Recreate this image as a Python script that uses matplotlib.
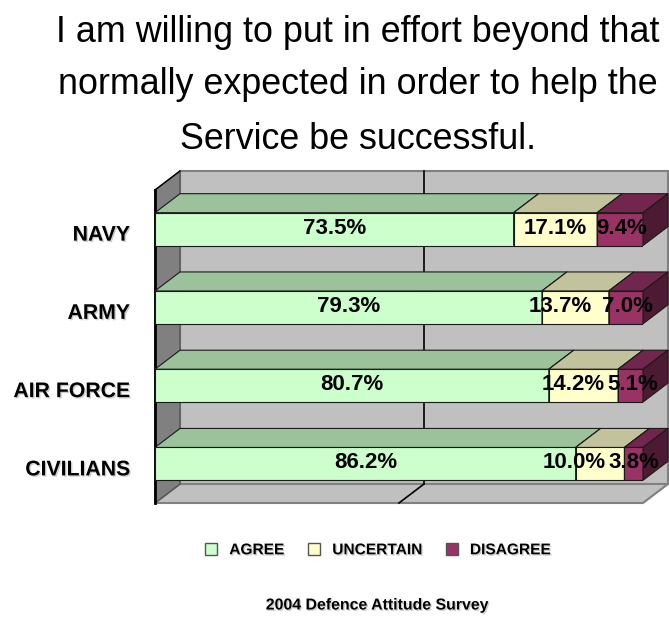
import numpy as np
import matplotlib
matplotlib.use("Agg")
import matplotlib.pyplot as plt
from matplotlib import font_manager as fm
from matplotlib import patheffects as pe
from matplotlib.patches import Polygon, Patch
from matplotlib.transforms import ScaledTranslation

# ---- data -------------------------------------------------------------
categories = ["NAVY", "ARMY", "AIR FORCE", "CIVILIANS"]
series_names = ["AGREE", "UNCERTAIN", "DISAGREE"]
agree = [73.5, 79.3, 80.7, 86.2]
uncertain = [17.1, 13.7, 14.2, 10.0]
disagree = [9.4, 7.0, 5.1, 3.8]

title_lines = ["I am willing to put in effort beyond that",
               "normally expected in order to help the",
               "Service be successful."]
source_note = "2004 Defence Attitude Survey"

# ---- styling ----------------------------------------------------------
front_colors = ["#CCFFCC", "#FFFFCC", "#993366"]
top_colors = ["#9BC29B", "#C2C29D", "#73264D"]
side_colors = ["#6F8F6F", "#8F8F70", "#4D1A33"]
edge = "#1a1a1a"


def has_font(name):
    try:
        fm.findfont(fm.FontProperties(family=name), fallback_to_default=False)
        return True
    except ValueError:
        return False


# Arial-Narrow-like face if present, else the metric-compatible Arial clone
FAMILY = next((f for f in ["Liberation Sans Narrow", "Arial Narrow"] if has_font(f)),
              "Liberation Sans")
FP_REG = fm.FontProperties(family=FAMILY, weight="normal")
FP_BOLD = fm.FontProperties(family=FAMILY, weight="bold")
FP_NUM = fm.FontProperties(family="Liberation Sans", weight="bold", size=16)

W, H = 669, 619
fig = plt.figure(figsize=(W / 100, H / 100), dpi=100)
fig.patch.set_facecolor("white")
renderer = fig.canvas.get_renderer()


def fitted(fp, text, width_px):
    """Copy of fp sized so that `text` spans width_px pixels."""
    p = fp.copy()
    p.set_size(20)
    t = fig.text(0, 0, text, fontproperties=p)
    w = t.get_window_extent(renderer).width
    t.remove()
    p.set_size(20 * width_px / w)
    return p


# front plane of the 3-D box, in pixels
left_px, right_px, top_px, bottom_px = 155, 643, 190, 503
ax = fig.add_axes([left_px / W, 1 - bottom_px / H,
                   (right_px - left_px) / W, (bottom_px - top_px) / H])
ax.set_xlim(0, 100)
ax.set_ylim(len(categories) - 0.5, -0.5)
ax.set_facecolor("none")
for s in ax.spines.values():
    s.set_visible(False)
ax.set_xticks([])

# depth offset of the box (pixels) converted to data units
depth_px = np.array([25.0, 19.0])
p0 = ax.transData.transform((0, 0))
dxy = ax.transData.inverted().transform(p0 + depth_px)
dx, dy = dxy[0], dxy[1]

y0, y1 = ax.get_ylim()  # bottom, top
x0, x1 = ax.get_xlim()

# back wall
ax.add_patch(Polygon([(x0 + dx, y0 + dy), (x1 + dx, y0 + dy),
                      (x1 + dx, y1 + dy), (x0 + dx, y1 + dy)],
                     closed=True, facecolor="#C0C0C0", edgecolor="#808080",
                     lw=1.5, zorder=0, clip_on=False))
# floor
ax.add_patch(Polygon([(x0, y0), (x1, y0), (x1 + dx, y0 + dy), (x0 + dx, y0 + dy)],
                     closed=True, facecolor="#C0C0C0", edgecolor="#808080",
                     lw=1.5, zorder=0.5, clip_on=False))
# left wall
ax.add_patch(Polygon([(x0, y0), (x0, y1), (x0 + dx, y1 + dy), (x0 + dx, y0 + dy)],
                     closed=True, facecolor="#808080", edgecolor="#555555",
                     lw=1.0, zorder=0.6, clip_on=False))
ax.plot([x0, x0], [y0, y1], color="black", lw=2, zorder=0.7, clip_on=False)
ax.plot([x0, x0 + dx], [y1, y1 + dy], color="black", lw=1, zorder=0.7, clip_on=False)

# 50% gridline on back wall and floor
gx = 50
ax.plot([gx + dx, gx + dx], [y0 + dy, y1 + dy], color="black", lw=1.2,
        zorder=1, clip_on=False)
ax.plot([gx, gx + dx], [y0, y0 + dy], color="black", lw=1.2,
        zorder=1, clip_on=False)

# stacked 3-D bars
ypos = np.arange(len(categories))
bar_h = 0.42
values = [agree, uncertain, disagree]
lefts = np.zeros(len(categories))
label_nudge_px = [[0, 0, 2], [0, -15, 2], [0, -10, 2], [0, -26, 0]]
for s, vals in enumerate(values):
    vals = np.asarray(vals, dtype=float)
    bars = ax.barh(ypos, vals, left=lefts, height=bar_h, color=front_colors[s],
                   edgecolor=edge, lw=0.8, zorder=3 + s)
    for i, b in enumerate(bars):
        bx0, by = b.get_x(), b.get_y()
        bx1 = bx0 + b.get_width()
        yt = by  # upper edge (inverted axis)
        yb = by + b.get_height()
        ax.add_patch(Polygon([(bx0, yt), (bx1, yt), (bx1 + dx, yt + dy), (bx0 + dx, yt + dy)],
                             closed=True, facecolor=top_colors[s], edgecolor=edge,
                             lw=0.8, zorder=3 + s, clip_on=False))
        ax.add_patch(Polygon([(bx1, yt), (bx1, yb), (bx1 + dx, yb + dy), (bx1 + dx, yt + dy)],
                             closed=True, facecolor=side_colors[s], edgecolor=edge,
                             lw=0.8, zorder=3 + s, clip_on=False))
        nud = label_nudge_px[i][s]
        ax.text(bx0 + vals[i] / 2, ypos[i], f"{vals[i]:.1f}%",
                ha="center", va="center", fontproperties=FP_NUM,
                color="black", zorder=10, clip_on=False,
                transform=ax.transData + ScaledTranslation(nud / 100, 1 / 100,
                                                           fig.dpi_scale_trans))
    lefts = lefts + vals

shadow = [pe.withSimplePatchShadow(offset=(1, -1), shadow_rgbFace="#b0b0b0", alpha=0.6)]

# category labels
fp_cat = fitted(FP_BOLD, "CIVILIANS", 105)
ax.set_yticks(ypos)
ax.set_yticklabels(categories, fontproperties=fp_cat, color="black")
ax.tick_params(axis="y", length=0, pad=25 * 0.72)
for t in ax.get_yticklabels():
    t.set_transform(t.get_transform() + ScaledTranslation(0, -4 / 100, fig.dpi_scale_trans))
    t.set_path_effects(shadow)

# title
fp_title = fitted(FP_REG, title_lines[0], 603)
for line, base in zip(title_lines, [42, 94, 149]):
    fig.text(358 / W, 1 - base / H, line, ha="center", va="baseline",
             fontproperties=fp_title, color="black")

# legend
fp_leg = fitted(FP_BOLD, "AGREE", 55)
px_per_fs = fp_leg.get_size_in_points() * 100 / 72
handles = [Patch(facecolor=c, edgecolor="#555555", lw=1) for c in front_colors]
leg = fig.legend(handles, series_names, loc="center", ncol=3, frameon=False,
                 bbox_to_anchor=(378 / W, 1 - 550 / H), prop=fp_leg,
                 handlelength=12 / px_per_fs, handleheight=13 / px_per_fs,
                 handletextpad=12 / px_per_fs, columnspacing=24 / px_per_fs,
                 borderpad=0)
for t in leg.get_texts():
    t.set_path_effects(shadow)

# source note
fp_src = fitted(FP_BOLD, source_note, 223)
fig.text(377 / W, 1 - 605 / H, source_note, ha="center", va="center",
         fontproperties=fp_src, color="black", path_effects=shadow)

fig.savefig("out.png", dpi=100, facecolor="white")
